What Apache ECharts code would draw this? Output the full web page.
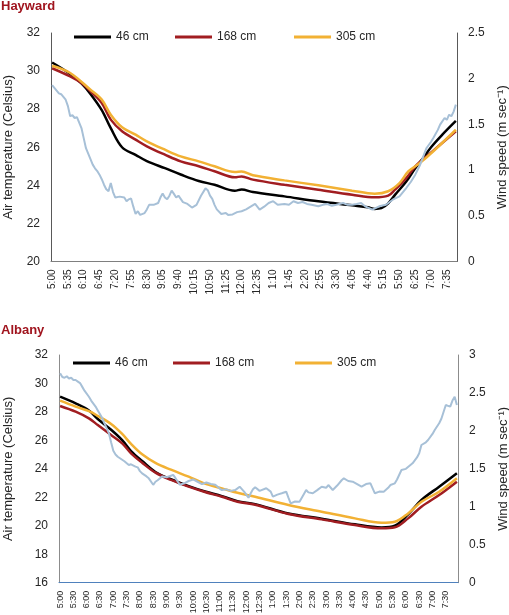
<!DOCTYPE html>
<html>
<head>
<meta charset="utf-8">
<script src="https://cdn.jsdelivr.net/npm/echarts@6/dist/echarts.min.js"></script>
<style>html,body{margin:0;padding:0;background:#fff;}#c{width:509px;height:615px;}</style>
</head>
<body>
<div id="c"></div>
<script>
// Category labels: 5:00 pm to 7:55 am at 5-minute steps (180 categories)
const times = [];
for (let k = 0; k < 180; k++) {
  const m = 17 * 60 + k * 5;
  const h24 = Math.floor(m / 60) % 24;
  const h12 = ((h24 + 11) % 12) + 1;
  const mm = m % 60;
  times.push(h12 + ':' + (mm < 10 ? '0' : '') + mm);
}
const seriesNames = ['46 cm', '168 cm', '305 cm'];

// Hayward: [category index, air temperature °C]
const hay46 = [[0,30.45],[8,29.85],[13,29.35],[17,28.8],[22,27.95],[26,27.0],[31,26.0],[37,25.6],[42,25.27],[50,24.9],[57,24.57],[65,24.23],[72,24.03],[81,23.72],[84,23.78],[89,23.65],[103,23.42],[118,23.16],[133,22.95],[140,22.85],[143,22.76],[146,22.8],[149,23.05],[152,23.5],[157,24.2],[161,24.9],[164,25.35],[168,26.0],[173,26.66],[179,27.38]];
const hay168 = [[0,30.15],[8,29.72],[13,29.37],[17,28.94],[22,28.32],[26,27.45],[31,26.84],[37,26.40],[42,26.05],[50,25.61],[57,25.26],[65,25.0],[72,24.74],[81,24.42],[84,24.47],[89,24.30],[103,24.03],[118,23.77],[133,23.51],[143,23.37],[149,23.46],[152,23.77],[157,24.38],[161,25.0],[166,25.52],[172,26.13],[179,26.84]];
const hay305 = [[0,30.28],[8,29.90],[17,29.02],[22,28.50],[26,27.71],[31,27.05],[37,26.66],[42,26.31],[50,25.87],[57,25.52],[65,25.26],[72,25.0],[81,24.70],[84,24.72],[89,24.53],[103,24.26],[118,24.0],[133,23.72],[143,23.56],[149,23.69],[154,24.12],[158,24.74],[163,25.17],[169,25.79],[179,26.92]];
// Hayward: [category index, wind speed m/s]
const hayWind = [[0,1.93],[1,1.90],[3,1.84],[4,1.83],[6,1.77],[7,1.70],[8,1.59],[9,1.60],[10,1.57],[11,1.58],[12,1.52],[13,1.46],[14,1.35],[15,1.24],[16,1.18],[17,1.12],[18,1.06],[19,1.02],[20,0.99],[21,0.95],[22,0.90],[23,0.84],[24,0.79],[25,0.77],[26,0.86],[27,0.76],[28,0.70],[30,0.71],[32,0.70],[33,0.66],[34,0.68],[35,0.69],[36,0.60],[37,0.52],[38,0.55],[39,0.51],[41,0.53],[42,0.57],[43,0.62],[45,0.62],[47,0.64],[48,0.70],[49,0.745],[50,0.70],[51,0.68],[52,0.72],[53,0.775],[54,0.74],[55,0.70],[56,0.72],[58,0.65],[60,0.63],[62,0.59],[64,0.62],[66,0.72],[68,0.80],[69,0.78],[70,0.72],[71,0.685],[72,0.62],[73,0.57],[75,0.52],[77,0.53],[78,0.51],[80,0.515],[82,0.54],[84,0.55],[86,0.57],[88,0.60],[90,0.63],[92,0.567],[94,0.60],[96,0.64],[98,0.66],[100,0.621],[103,0.629],[105,0.62],[107,0.659],[109,0.64],[111,0.651],[113,0.63],[115,0.621],[118,0.604],[120,0.62],[122,0.629],[124,0.61],[126,0.621],[129,0.640],[131,0.62],[133,0.621],[135,0.63],[137,0.640],[139,0.60],[142,0.567],[145,0.604],[148,0.621],[151,0.676],[154,0.713],[157,0.804],[159,0.87],[161,0.95],[163,1.05],[164,1.114],[166,1.242],[168,1.31],[169,1.351],[171,1.44],[172,1.497],[174,1.57],[175,1.55],[176,1.606],[177,1.589],[178,1.64],[179,1.716]];

// Albany: [category index, air temperature °C]
const alb46 = [[0,29.07],[7,28.60],[13,28.10],[17,27.50],[23,26.75],[28,26.02],[32,25.25],[37,24.55],[43,23.78],[50,23.27],[58,22.79],[65,22.43],[73,22.08],[80,21.73],[88,21.52],[103,20.86],[118,20.50],[133,20.10],[145,19.88],[151,20.00],[157,20.80],[163,21.81],[171,22.75],[179,23.69]];
const alb168 = [[0,28.42],[7,28.02],[13,27.55],[17,27.08],[23,26.38],[28,25.79],[32,25.09],[37,24.43],[43,23.73],[50,23.22],[58,22.75],[65,22.39],[73,22.04],[80,21.69],[88,21.48],[103,20.83],[118,20.45],[133,20.05],[145,19.82],[151,19.89],[157,20.52],[163,21.34],[171,22.16],[179,23.10]];
const alb305 = [[0,28.79],[7,28.37],[13,28.05],[17,27.72],[23,27.15],[28,26.45],[32,25.75],[37,25.02],[43,24.42],[50,23.94],[58,23.45],[65,22.98],[73,22.63],[80,22.32],[88,22.04],[103,21.46],[118,20.99],[133,20.52],[145,20.21],[151,20.28],[157,20.87],[163,21.69],[171,22.39],[179,23.34]];
// Albany: [category index, wind speed m/s]
const albWind = [[0,2.76],[1,2.71],[2,2.70],[3,2.72],[4,2.69],[5,2.70],[6,2.67],[7,2.67],[8,2.65],[9,2.63],[10,2.58],[11,2.53],[13,2.45],[14,2.40],[16,2.32],[17,2.27],[19,2.17],[20,2.10],[22,1.97],[23,1.85],[24,1.74],[25,1.69],[26,1.66],[28,1.62],[29,1.60],[31,1.55],[32,1.56],[34,1.53],[35,1.52],[36,1.47],[37,1.44],[39,1.40],[40,1.375],[42,1.29],[43,1.33],[44,1.35],[46,1.40],[48,1.39],[50,1.41],[51,1.42],[52,1.38],[54,1.29],[56,1.31],[58,1.34],[60,1.36],[62,1.33],[64,1.30],[66,1.32],[68,1.30],[70,1.29],[72,1.24],[73,1.22],[75,1.23],[77,1.21],[79,1.22],[81,1.265],[83,1.20],[85,1.12],[86,1.18],[87,1.23],[88,1.257],[90,1.21],[93,1.244],[95,1.20],[96,1.133],[98,1.16],[100,1.178],[102,1.199],[103,1.12],[104,1.046],[106,1.07],[108,1.067],[110,1.17],[111,1.221],[112,1.19],[114,1.178],[116,1.22],[118,1.265],[120,1.25],[121,1.287],[123,1.221],[125,1.28],[127,1.35],[128,1.375],[130,1.34],[132,1.331],[134,1.30],[136,1.265],[138,1.30],[140,1.309],[142,1.178],[144,1.20],[146,1.199],[148,1.25],[149,1.287],[151,1.309],[152,1.36],[154,1.485],[156,1.50],[159,1.573],[161,1.65],[162,1.705],[163,1.814],[165,1.85],[166,1.88],[168,1.96],[169,2.012],[171,2.10],[172,2.16],[174,2.341],[175,2.33],[176,2.319],[177,2.40],[178,2.451],[179,2.341]];

const C46 = '#000000', C168 = '#a11d21', C305 = '#f2b134', CW = '#a7c0d7';
const TXT = '#262626', FONT = 'Liberation Sans, Arial, sans-serif';

function tempSeries(name, data, color, xi, yi) {
  return { name: name, type: 'line', data: data, xAxisIndex: xi, yAxisIndex: yi,
    showSymbol: false, symbol: 'none', smooth: 0.35, lineStyle: { color: color, width: 2.5 },
    itemStyle: { color: color }, emphasis: { disabled: true } };
}
function windSeries(data, xi, yi) {
  return { name: 'wind', type: 'line', data: data, xAxisIndex: xi, yAxisIndex: yi,
    showSymbol: false, symbol: 'none', lineStyle: { color: CW, width: 2 },
    itemStyle: { color: CW }, emphasis: { disabled: true } };
}
function legend(name, left, top) {
  return { data: [name], left: left, top: top, icon: 'rect', itemWidth: 37, itemHeight: 3,
    itemGap: 0, itemTextGap: 5, padding: 0, selectedMode: false,
    textStyle: { fontFamily: FONT, fontSize: 12, color: TXT } };
}
function xAxis(gi, fs, interval, lineColor) {
  return { type: 'category', gridIndex: gi, data: times, boundaryGap: true,
    axisLine: { lineStyle: { color: lineColor, width: 1 } }, axisTick: { show: false },
    axisLabel: { interval: interval, rotate: 90, fontSize: fs, fontFamily: FONT, color: TXT, margin: 8 },
    splitLine: { show: false } };
}
function yAxis(gi, pos, min, max, itv, name, gap, lineColor) {
  return { type: 'value', gridIndex: gi, position: pos, min: min, max: max, interval: itv,
    name: name, nameLocation: 'middle', nameRotate: 90, nameGap: gap,
    nameTextStyle: { fontFamily: FONT, fontSize: 13, color: TXT },
    axisLine: { show: true, lineStyle: { color: lineColor, width: 1 } }, axisTick: { show: false },
    axisLabel: { fontFamily: FONT, fontSize: 12, color: TXT, margin: 11 },
    splitLine: { show: false } };
}

const option = {
  animation: false,
  backgroundColor: '#ffffff',
  title: [
    { text: 'Hayward', left: 1, top: 0, padding: 0, textStyle: { fontFamily: FONT, fontSize: 13, fontWeight: 'bold', color: '#a0141e' } },
    { text: 'Albany', left: 1, top: 324, padding: 0, textStyle: { fontFamily: FONT, fontSize: 13, fontWeight: 'bold', color: '#a0141e' } }
  ],
  legend: [
    legend(seriesNames[0], 74, 31), legend(seriesNames[1], 175, 31), legend(seriesNames[2], 294, 31),
    legend(seriesNames[0], 73, 357), legend(seriesNames[1], 173, 357), legend(seriesNames[2], 295, 357)
  ],
  grid: [
    { left: 51, right: 52, top: 33, height: 228.5, containLabel: false, outerBoundsMode: 'none' },
    { left: 59, right: 51, top: 355, height: 227.7, containLabel: false, outerBoundsMode: 'none' }
  ],
  xAxis: [ xAxis(0, 10, 6, '#7f7f7f'), xAxis(1, 9, 5, '#4f81bd') ],
  yAxis: [
    yAxis(0, 'left', 20, 32, 2, 'Air temperature (Celsius)', 36, '#595959'),
    yAxis(0, 'right', 0, 2.5, 0.5, 'Wind speed (m sec\u207B\u00B9)', 38, '#595959'),
    yAxis(1, 'left', 16, 32, 2, 'Air temperature (Celsius)', 44, '#8c8c8c'),
    yAxis(1, 'right', 0, 3, 0.5, 'Wind speed (m sec\u207B\u00B9)', 38, '#8c8c8c')
  ],
  series: [
    tempSeries(seriesNames[0], hay46, C46, 0, 0),
    tempSeries(seriesNames[1], hay168, C168, 0, 0),
    tempSeries(seriesNames[2], hay305, C305, 0, 0),
    windSeries(hayWind, 0, 1),
    tempSeries(seriesNames[0], alb46, C46, 1, 2),
    tempSeries(seriesNames[1], alb168, C168, 1, 2),
    tempSeries(seriesNames[2], alb305, C305, 1, 2),
    windSeries(albWind, 1, 3)
  ]
};
const chart = echarts.init(document.getElementById('c'), null, { renderer: 'canvas' });
chart.setOption(option);
</script>
</body>
</html>
